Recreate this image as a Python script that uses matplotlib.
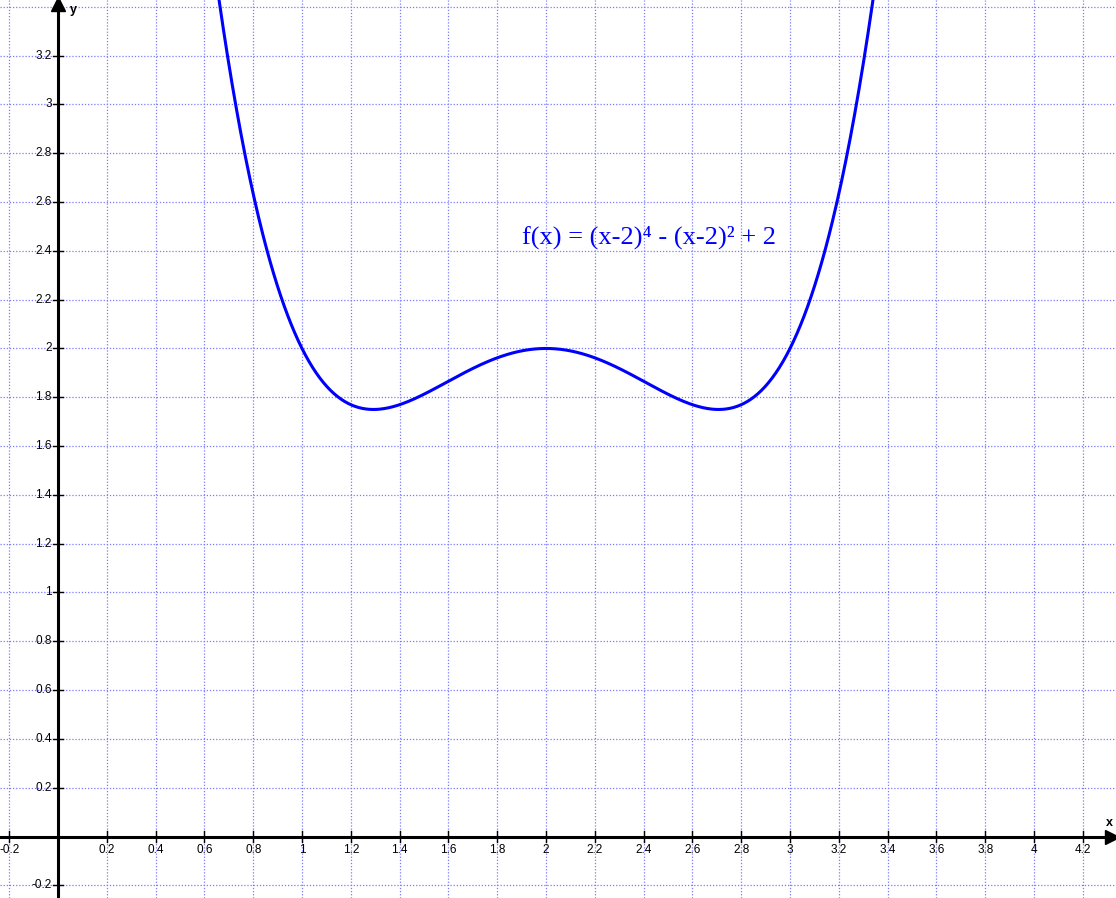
import numpy as np
import matplotlib
matplotlib.use("Agg")
import matplotlib.pyplot as plt

# function shown on the chart: f(x) = (x-2)^4 - (x-2)^2 + 2
shift = 2.0
const = 2.0
x_start = 0.55
x_end = 3.45

x_lim = (-0.2377, 4.336)
y_lim = (-0.252, 3.428)
grid_steps = np.round(np.arange(-0.2, 4.41, 0.2), 1)
x_ticks = [-0.2, 0.2, 0.4, 0.6, 0.8, 1, 1.2, 1.4, 1.6, 1.8, 2, 2.2, 2.4, 2.6,
           2.8, 3, 3.2, 3.4, 3.6, 3.8, 4, 4.2]
y_ticks = [-0.2, 0.2, 0.4, 0.6, 0.8, 1, 1.2, 1.4, 1.6, 1.8, 2, 2.2, 2.4, 2.6,
           2.8, 3, 3.2]
label = "f(x) = (x-2)\u2074 - (x-2)\u00b2 + 2"


def fmt(v):
    return "%g" % v


def main():
    plt.rcParams['font.family'] = ['Liberation Sans', 'DejaVu Sans']
    fig = plt.figure(figsize=(11.16, 8.98), dpi=100)
    ax = fig.add_axes([0, 0, 1, 1])
    ax.set_xlim(*x_lim)
    ax.set_ylim(*y_lim)
    for s in ax.spines.values():
        s.set_visible(False)
    ax.set_xticks([])
    ax.set_yticks([])

    grid_kw = dict(color="#7a7aff", linestyle=(0, (1, 1.5)), linewidth=0.9, zorder=0)
    for g in grid_steps:
        ax.axvline(g, **grid_kw)
        ax.axhline(g, **grid_kw)

    # axes with arrows
    ax.axhline(0, color="black", linewidth=2.2, zorder=2)
    ax.axvline(0, color="black", linewidth=2.2, zorder=2)
    ax.plot([x_lim[1] - 0.015], [0], marker=">", color="black", markersize=10,
            clip_on=False, zorder=3)
    ax.plot([0], [y_lim[1] - 0.015], marker="^", color="black", markersize=10,
            clip_on=False, zorder=3)
    ax.text(x_lim[1] - 0.026, 0.03, "x", fontsize=9, fontweight="bold",
            ha="center", va="bottom")
    ax.text(0.062, y_lim[1] - 0.018, "y", fontsize=9, fontweight="bold",
            ha="center", va="top")

    # ticks and tick labels
    tx = 0.021
    ty = 0.021
    for v in x_ticks:
        ax.plot([v, v], [-ty, ty], color="black", linewidth=1, zorder=2)
        ax.text(v, -0.03, fmt(v), fontsize=8.5, ha="center", va="top")
    for v in y_ticks:
        ax.plot([-tx, tx], [v, v], color="black", linewidth=1, zorder=2)
        ax.text(-0.026, v, fmt(v), fontsize=8.5, ha="right", va="center")

    xs = np.linspace(x_start, x_end, 800)
    ys = (xs - shift) ** 4 - (xs - shift) ** 2 + const
    ax.plot(xs, ys, color="#0000ff", linewidth=2.2, zorder=4)

    ax.text(1.9, 2.43, label, color="#0000ff", fontsize=19,
            family=['Liberation Serif', 'DejaVu Serif'], ha="left", va="baseline")

    fig.savefig("out.png", dpi=100)


if __name__ == "__main__":
    main()
